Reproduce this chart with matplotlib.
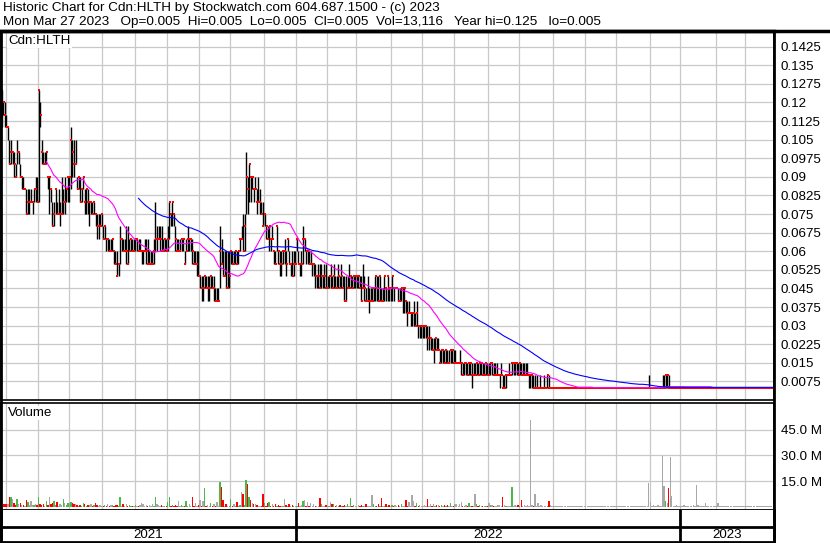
import matplotlib
matplotlib.use("Agg")
import matplotlib.pyplot as plt
from matplotlib.lines import Line2D
import numpy as np
import pandas as pd

plt.rcParams['font.family'] = ['Liberation Sans', 'DejaVu Sans']

# trading days in each month, Mar 2021 .. Mar 2023
month_days = [3, 21, 20, 22, 21, 21, 21, 20, 22, 21,
              20, 19, 23, 20, 21, 22, 20, 22, 21, 20, 22, 20,
              23, 19, 19]
month_year = [2021] * 10 + [2022] * 12 + [2023] * 3
years = [2021, 2022, 2023]

# daily prices in ticks of 0.005
high = [
    25, 24, 24,
    23, 22, 21, 21, 20, 20, 19, 21, 20, 19, 18, 18, 17, 17, 17, 17, 17, 16, 17, 18, 18,
    25, 24, 21, 20, 20, 20, 18, 18, 17, 16, 16, 17, 16, 17, 16, 18, 17, 18, 17, 18,
    18, 22, 21, 21, 21, 18, 18, 18, 17, 18, 17, 17, 17, 16, 16, 16, 16, 15, 15, 15, 15, 15,
    14, 14, 13, 13, 13, 13, 13, 12, 12, 12, 11, 14, 13, 13, 13, 14, 14, 13, 13, 13, 13,
    13, 13, 13, 13, 12, 12, 13, 13, 13, 12, 12, 12, 13, 16, 14, 14, 14, 14, 13, 13, 13,
    14, 16, 15, 16, 15, 14, 13, 13, 13, 13, 13, 12, 13, 14, 13, 13, 13, 12, 12, 12, 12,
    10, 10, 10, 10, 10, 10, 10, 10, 10, 10, 9, 9, 9, 14, 13, 12, 12, 12, 12, 12,
    12, 12, 12, 12, 12, 12, 13, 14, 15, 15, 20, 18, 19, 18, 18, 17, 18, 17, 18, 17, 16, 16,
    15, 14, 14, 14, 13, 14, 12, 12, 14, 12, 12, 12, 12, 13, 12, 13, 12, 11, 12, 12, 12,
    13, 12, 11, 12, 14, 13, 12, 12, 12, 12, 11, 11, 11, 10, 11, 11, 11, 10, 11, 11,
    10, 10, 11, 10, 11, 10, 10, 11, 10, 11, 10, 10, 10, 10, 11, 10, 10, 10, 10,
    10, 10, 10, 10, 11, 10, 9, 10, 9, 9, 9, 9, 10, 10, 10, 10, 9, 9, 10, 9, 10, 9, 9,
    10, 9, 9, 9, 9, 9, 9, 9, 9, 8, 8, 8, 7, 7, 8, 7, 8, 6, 6, 6,
    6, 6, 6, 6, 6, 5, 5, 5, 5, 5, 5, 4, 4, 4, 4, 4, 4, 4, 4, 4, 4,
    4, 3, 3, 4, 3, 3, 3, 3, 3, 3, 3, 3, 3, 3, 3, 3, 3, 3, 3, 3, 3, 3,
    3, 3, 3, 3, 3, 3, 2, 2, 3, 2, 2, 2, 2, 3, 2, 3, 3, 3, 3, 3,
    3, 3, 3, 3, 3, 3, 2, 2, 2, 2, 2, 2, 1, 2, 1, 1, 2, 1, 2, 2, 1, 1,
    1, 1, 1, 1, 1, 1, 1, 1, 1, 1, 1, 1, 1, 1, 1, 1, 1, 1, 1, 1, 1,
    1, 1, 1, 1, 1, 1, 1, 1, 1, 1, 1, 1, 1, 1, 1, 1, 1, 1, 1, 1,
    1, 1, 1, 1, 1, 1, 1, 1, 1, 1, 1, 1, 1, 1, 1, 1, 1, 1, 1, 1, 1, 2,
    1, 1, 1, 1, 1, 1, 1, 1, 2, 2, 2, 2, 2, 1, 1, 1, 1, 1, 1, 1,
    1, 1, 1, 1, 1, 1, 1, 1, 1, 1, 1, 1, 1, 1, 1, 1, 1, 1, 1, 1, 1, 1, 1,
    1, 1, 1, 1, 1, 1, 1, 1, 1, 1, 1, 1, 1, 1, 1, 1, 1, 1, 1,
    1, 1, 1, 1, 1, 1, 1, 1, 1, 1, 1, 1, 1, 1, 1, 1, 1, 1, 1,
]
low = [
    22, 23, 22,
    22, 21, 19, 19, 19, 18, 18, 19, 19, 18, 17, 17, 17, 15, 15, 15, 16, 15, 16, 16, 16,
    16, 22, 19, 19, 19, 19, 17, 15, 16, 14, 14, 15, 15, 15, 14, 15, 15, 15, 16, 16,
    16, 17, 18, 18, 19, 17, 17, 16, 16, 17, 15, 15, 15, 14, 15, 15, 15, 14, 13, 13, 14, 14,
    13, 13, 12, 12, 12, 12, 12, 11, 11, 10, 10, 11, 12, 12, 12, 11, 11, 12, 12, 12, 12,
    12, 12, 12, 12, 11, 11, 12, 11, 11, 11, 11, 11, 11, 12, 12, 13, 12, 12, 12, 12, 12,
    12, 13, 14, 14, 14, 12, 12, 12, 12, 12, 12, 11, 12, 12, 12, 12, 11, 11, 11, 10, 10,
    9, 8, 8, 9, 9, 8, 8, 9, 9, 8, 8, 8, 8, 9, 11, 10, 10, 9, 9, 9,
    11, 11, 11, 11, 11, 11, 12, 13, 12, 12, 15, 15, 16, 16, 17, 16, 17, 15, 16, 15, 15, 14,
    14, 13, 13, 12, 12, 13, 11, 11, 12, 11, 10, 10, 11, 11, 10, 12, 11, 10, 10, 10, 11,
    12, 11, 10, 10, 11, 12, 11, 11, 11, 11, 10, 10, 9, 9, 9, 9, 9, 9, 9, 9,
    9, 9, 9, 9, 9, 9, 9, 9, 9, 9, 9, 8, 8, 9, 9, 9, 9, 9, 9,
    9, 9, 9, 8, 9, 8, 8, 8, 7, 8, 8, 8, 8, 8, 8, 8, 8, 8, 8, 8, 8, 8, 8,
    8, 8, 9, 9, 8, 8, 8, 7, 7, 7, 6, 7, 6, 6, 6, 6, 6, 5, 5, 5,
    5, 5, 5, 4, 4, 4, 4, 3, 4, 4, 4, 3, 3, 3, 3, 3, 3, 3, 3, 3, 3,
    3, 3, 3, 3, 2, 2, 2, 2, 2, 2, 2, 1, 2, 2, 2, 2, 2, 2, 2, 2, 2, 2,
    2, 2, 2, 2, 2, 2, 2, 1, 2, 1, 1, 1, 2, 2, 2, 2, 2, 2, 2, 2,
    2, 2, 2, 2, 2, 2, 1, 1, 1, 1, 1, 1, 1, 1, 1, 1, 1, 1, 1, 1, 1, 1,
    1, 1, 1, 1, 1, 1, 1, 1, 1, 1, 1, 1, 1, 1, 1, 1, 1, 1, 1, 1, 1,
    1, 1, 1, 1, 1, 1, 1, 1, 1, 1, 1, 1, 1, 1, 1, 1, 1, 1, 1, 1,
    1, 1, 1, 1, 1, 1, 1, 1, 1, 1, 1, 1, 1, 1, 1, 1, 1, 1, 1, 1, 1, 1,
    1, 1, 1, 1, 1, 1, 1, 1, 1, 1, 1, 1, 1, 1, 1, 1, 1, 1, 1, 1,
    1, 1, 1, 1, 1, 1, 1, 1, 1, 1, 1, 1, 1, 1, 1, 1, 1, 1, 1, 1, 1, 1, 1,
    1, 1, 1, 1, 1, 1, 1, 1, 1, 1, 1, 1, 1, 1, 1, 1, 1, 1, 1,
    1, 1, 1, 1, 1, 1, 1, 1, 1, 1, 1, 1, 1, 1, 1, 1, 1, 1, 1,
]
close = [
    25, 24, 23,
    22, 22, 19, 20, 20, 19, 18, 20, 20, 18, 18, 17, 17, 15, 16, 16, 16, 16, 17, 17, 16,
    25, 23, 20, 19, 19, 20, 18, 18, 17, 14, 15, 17, 15, 15, 15, 15, 16, 16, 17, 18,
    18, 21, 20, 19, 19, 17, 18, 16, 17, 18, 16, 17, 16, 16, 16, 15, 16, 15, 14, 14, 14, 15,
    13, 14, 13, 13, 12, 12, 13, 12, 11, 10, 11, 13, 13, 12, 12, 12, 11, 12, 13, 12, 12,
    13, 13, 12, 12, 12, 12, 12, 12, 11, 11, 11, 11, 12, 13, 13, 13, 13, 12, 12, 13, 12,
    13, 16, 15, 16, 15, 13, 12, 12, 12, 13, 13, 11, 12, 13, 13, 13, 12, 11, 11, 11, 10,
    10, 9, 9, 10, 9, 9, 9, 10, 9, 9, 8, 8, 8, 12, 11, 10, 10, 9, 9, 10,
    12, 11, 11, 12, 11, 12, 13, 13, 12, 14, 18, 17, 19, 18, 18, 17, 17, 16, 16, 16, 15, 14,
    15, 14, 13, 14, 13, 13, 12, 11, 14, 12, 11, 11, 12, 12, 11, 13, 11, 11, 10, 11, 11,
    13, 11, 11, 11, 13, 13, 12, 12, 11, 11, 11, 11, 10, 10, 10, 9, 10, 10, 10, 9,
    9, 10, 10, 9, 10, 9, 9, 10, 9, 10, 9, 8, 8, 9, 9, 10, 9, 10, 10,
    10, 10, 9, 8, 9, 9, 8, 8, 8, 8, 8, 9, 10, 9, 8, 10, 8, 8, 10, 9, 10, 9, 9,
    10, 9, 9, 9, 8, 8, 9, 9, 9, 8, 7, 7, 7, 7, 7, 6, 7, 6, 6, 6,
    6, 6, 6, 5, 5, 5, 4, 4, 5, 4, 4, 3, 4, 4, 3, 4, 3, 3, 4, 4, 3,
    3, 3, 3, 3, 3, 2, 3, 3, 2, 3, 3, 2, 2, 2, 3, 2, 3, 3, 2, 2, 3, 2,
    2, 3, 3, 2, 2, 2, 2, 2, 2, 1, 1, 2, 2, 2, 2, 3, 3, 3, 3, 2,
    3, 2, 2, 2, 2, 2, 2, 2, 2, 1, 1, 1, 1, 1, 1, 1, 1, 1, 2, 1, 1, 1,
    1, 1, 1, 1, 1, 1, 1, 1, 1, 1, 1, 1, 1, 1, 1, 1, 1, 1, 1, 1, 1,
    1, 1, 1, 1, 1, 1, 1, 1, 1, 1, 1, 1, 1, 1, 1, 1, 1, 1, 1, 1,
    1, 1, 1, 1, 1, 1, 1, 1, 1, 1, 1, 1, 1, 1, 1, 1, 1, 1, 1, 1, 1, 1,
    1, 1, 1, 1, 1, 1, 1, 1, 1, 1, 2, 2, 1, 1, 1, 1, 1, 1, 1, 1,
    1, 1, 1, 1, 1, 1, 1, 1, 1, 1, 1, 1, 1, 1, 1, 1, 1, 1, 1, 1, 1, 1, 1,
    1, 1, 1, 1, 1, 1, 1, 1, 1, 1, 1, 1, 1, 1, 1, 1, 1, 1, 1,
    1, 1, 1, 1, 1, 1, 1, 1, 1, 1, 1, 1, 1, 1, 1, 1, 1, 1, 1,
]
# daily volume, millions of shares
volume = [
    5.9, 1.8, 1.8,
    1.8, 1.5, 5.9, 5.9, 4.9, 2.4, 1.2, 4.7, 1.8, 2.4, 1.0, 1.4, 0.8, 4.3, 2.9, 1.0, 3.3, 1.2, 0.9, 1.5, 1.0,
    5.5, 1.8, 1.4, 1.8, 0.8, 3.3, 1.0, 5.9, 1.8, 2.4, 3.3, 1.0, 2.9, 0.7, 1.8, 1.0, 4.7, 2.4, 1.2, 2.4,
    2.4, 2.9, 2.4, 1.8, 1.8, 1.0, 0.6, 1.4, 0.8, 2.4, 1.8, 0.6, 1.4, 1.4, 1.8, 0.7, 0.9, 2.4, 1.0, 0.6, 1.2, 0.8,
    0.6, 1.4, 0.5, 1.8, 0.8, 1.4, 1.4, 0.5, 1.4, 1.0, 0.6, 5.9, 0.8, 1.8, 0.5, 1.8, 0.7, 1.4, 0.5, 0.6, 0.8,
    1.0, 0.5, 0.6, 1.0, 2.4, 1.8, 0.5, 1.4, 0.6, 1.0, 0.5, 1.8, 0.6, 5.9, 1.8, 1.4, 0.5, 1.0, 0.6, 0.8, 0.5,
    2.9, 5.9, 0.8, 1.4, 0.6, 1.0, 0.5, 3.3, 0.6, 1.0, 0.5, 0.8, 3.3, 0.6, 1.8, 0.5, 5.7, 0.6, 2.4, 0.8, 1.0,
    4.3, 0.8, 3.3, 11.2, 0.6, 1.4, 0.5, 2.4, 0.6, 1.8, 0.5, 2.9, 0.6, 14.7, 11.6, 4.3, 0.6, 1.8, 0.5, 0.8,
    4.7, 0.6, 1.8, 0.5, 2.9, 0.6, 1.0, 8.6, 7.3, 1.4, 15.5, 13.5, 5.9, 4.3, 2.4, 1.8, 1.8, 1.4, 0.6, 0.8, 0.5, 7.6,
    2.4, 0.6, 2.4, 2.9, 0.5, 1.8, 0.6, 1.8, 0.5, 1.0, 0.6, 0.8, 0.5, 4.7, 1.0, 0.6, 1.8, 0.5, 1.4, 0.6, 0.5,
    0.6, 2.4, 0.5, 1.4, 3.3, 4.3, 0.6, 2.9, 0.5, 2.4, 0.6, 1.8, 0.5, 0.8, 0.6, 5.3, 1.8, 0.5, 0.6, 1.0,
    0.5, 0.6, 2.9, 1.8, 1.8, 0.5, 1.4, 0.6, 1.0, 0.5, 0.6, 1.0, 0.5, 1.8, 0.6, 5.3, 0.5, 1.0, 0.6,
    0.5, 1.0, 0.6, 1.0, 0.5, 0.6, 1.8, 0.5, 0.6, 0.5, 6.9, 1.8, 0.6, 0.5, 1.8, 0.6, 5.3, 0.5, 0.6, 1.8, 0.5, 1.4, 0.6,
    1.0, 0.5, 1.0, 0.6, 1.0, 0.5, 1.8, 0.6, 0.5, 4.3, 0.6, 2.9, 0.5, 6.9, 3.3, 0.6, 2.4, 0.5, 1.0, 0.6,
    0.6, 1.0, 0.5, 4.7, 0.6, 1.8, 0.5, 1.8, 0.6, 1.0, 1.0, 0.5, 1.0, 0.6, 1.0, 0.5, 1.0, 0.6, 2.4, 0.5, 0.6,
    1.8, 1.8, 0.6, 1.8, 2.9, 0.5, 0.6, 1.0, 0.5, 2.4, 0.6, 0.5, 0.6, 7.6, 1.8, 0.5, 1.0, 0.6, 0.5, 0.6, 0.5, 0.6,
    2.4, 1.0, 1.0, 0.5, 0.6, 0.5, 1.0, 1.4, 0.5, 5.7, 1.0, 0.6, 0.5, 0.6, 0.5, 11.8, 0.6, 1.0, 0.5, 1.0,
    0.6, 4.3, 0.5, 1.4, 0.6, 1.4, 0.6, 50.8, 1.4, 0.6, 7.6, 0.5, 2.4, 0.6, 1.4, 0.5, 0.6, 0.5, 0.6, 3.7, 1.0, 0.6,
    0.6, 0.8, 0.5, 0.6, 0.7, 0.5, 0.6, 0.8, 0.6, 0.5, 0.6, 0.7, 0.5, 0.6, 0.8, 0.6, 0.5, 0.6, 0.7, 0.5, 0.6,
    0.6, 0.5, 0.7, 0.6, 0.5, 0.8, 0.6, 0.5, 0.6, 0.7, 0.5, 0.6, 0.6, 0.5, 0.7, 0.6, 0.5, 0.6, 0.8, 0.5,
    0.6, 0.5, 0.6, 0.7, 0.5, 0.6, 0.6, 0.5, 0.7, 0.6, 0.5, 0.6, 0.6, 0.5, 0.7, 0.6, 0.5, 0.6, 0.5, 0.6, 0.5, 14.1,
    2.9, 0.5, 1.4, 0.6, 0.5, 1.4, 0.6, 0.5, 29.8, 12.2, 3.3, 2.0, 11.2, 28.8, 6.3, 0.6, 0.5, 1.4, 0.5, 0.6,
    0.5, 0.6, 1.0, 0.5, 0.6, 0.5, 0.6, 0.5, 1.4, 0.6, 12.7, 1.0, 0.6, 0.5, 0.6, 0.5, 2.4, 0.6, 0.5, 0.6, 0.5, 0.6, 0.5,
    0.6, 2.4, 0.5, 0.6, 0.5, 0.6, 0.5, 0.6, 0.5, 0.6, 0.5, 0.6, 0.5, 0.6, 0.5, 0.6, 0.5, 0.6, 0.5,
    0.5, 0.6, 0.5, 0.6, 0.5, 0.6, 0.5, 0.6, 0.5, 0.6, 0.5, 0.6, 0.5, 0.6, 0.5, 0.6, 0.5, 0.6, 0.013,
]

header1 = "Historic Chart for Cdn:HLTH by Stockwatch.com 604.687.1500 - (c) 2023"
header2 = ("Mon Mar 27 2023   Op=0.005  Hi=0.005  Lo=0.005  Cl=0.005  "
           "Vol=13,116   Year hi=0.125   lo=0.005")

TICK = 0.005
n_days = sum(month_days)
assert len(high) == len(low) == len(close) == len(volume) == n_days, \
    (len(high), len(low), len(close), len(volume), n_days)

hi = np.array(high) * TICK
lo = np.array(low) * TICK
cl = np.array(close) * TICK
vol = np.array(volume)
x = np.arange(n_days)

ma_fast = pd.Series(cl).rolling(30).mean()
ma_slow = pd.Series(cl).rolling(90).mean()

chg = np.diff(cl, prepend=cl[0])
vcolors = np.where(chg > 0, '#4cb84c', np.where(chg < 0, '#ff0000', '#a8a8a8'))

starts = np.cumsum([0] + month_days[:-1])
grid_x = starts[1:] - 0.5
my = np.array(month_year)
year_edges = [starts[my == yr][0] - 0.5 for yr in years] + [n_days - 0.5]

W, H = 830, 543
FS = 9.6
fig = plt.figure(figsize=(W / 100, H / 100), dpi=100)


def px_box(left, top, right, bottom):
    return [left / W, 1 - bottom / H, (right - left) / W, (bottom - top) / H]


ax_p = fig.add_axes(px_box(1, 31, 774, 400))
ax_v = fig.add_axes(px_box(1, 403, 774, 509.5))
ax_d = fig.add_axes(px_box(1, 510, 774, 542))

grid_col = '#c8c8c8'
for ax in (ax_p, ax_v):
    ax.set_xlim(-0.5, n_days - 0.5)
    ax.set_xticks(grid_x)
    ax.tick_params(axis='x', length=0, labelbottom=False)
    ax.yaxis.tick_right()
    ax.tick_params(axis='y', length=0, pad=5, labelsize=FS)
    ax.grid(True, color=grid_col, lw=0.9)
    ax.set_axisbelow(True)
    for s in ax.spines.values():
        s.set_color('black')
        s.set_linewidth(1.2)

# price panel
ax_p.vlines(x, lo, hi, color='black', lw=1.0, zorder=2)
ax_p.scatter(x + 0.3, cl, marker='s', s=3, color='red', lw=0, zorder=3)
ax_p.plot(x, ma_fast, color='#ff00ff', lw=0.8, zorder=4)
ax_p.plot(x, ma_slow, color='#0000ff', lw=0.8, zorder=4)
ax_p.set_ylim(0, 0.1488)
pticks = np.arange(1, 20) * 0.0075
ax_p.set_yticks(pticks)
ax_p.set_yticklabels([f"{round(v, 4):g}" for v in pticks])
ax_p.spines['top'].set_linewidth(2.5)
ax_p.text(0.009, 0.973, "Cdn:HLTH", transform=ax_p.transAxes, fontsize=FS,
          va='center', ha='left',
          bbox=dict(facecolor='white', edgecolor='none', pad=1))

# volume panel
ax_v.bar(x, vol, width=0.9, color=vcolors, lw=0, zorder=2)
ax_v.set_ylim(-1.5, 60.5)
ax_v.set_yticks([15, 30, 45])
ax_v.set_yticklabels(["15.0 M", "30.0 M", "45.0 M"])
ax_v.spines['bottom'].set_linewidth(2)
ax_v.text(0.009, 0.905, "Volume", transform=ax_v.transAxes, fontsize=FS,
          va='center', ha='left',
          bbox=dict(facecolor='white', edgecolor='none', pad=1))

# date band
ax_d.set_xlim(-0.5, n_days - 0.5)
ax_d.set_ylim(0, 1)
ax_d.set_xticks([])
ax_d.set_yticks([])
for s in ax_d.spines.values():
    s.set_linewidth(2)
ax_d.spines['top'].set_visible(False)
ax_d.axhline(0.47, color='black', lw=2)
for e in year_edges[1:-1]:
    ax_d.axvline(e, color='black', lw=2)
for yr, a, b in zip(years, year_edges[:-1], year_edges[1:]):
    ax_d.text((a + b) / 2, 0.22, str(yr), ha='center', va='center', fontsize=FS)

# header and outer frame
fig.text(3 / W, 1 - 8.5 / H, header1, fontsize=9.7, va='center', ha='left')
fig.text(3 / W, 1 - 22 / H, header2, fontsize=9.7, va='center', ha='left')
for xp in (1, 774):
    fig.add_artist(Line2D([xp / W, xp / W], [0, 1 - 31 / H],
                          transform=fig.transFigure, color='black', lw=2))
fig.add_artist(Line2D([0, 1], [1 - 30.5 / H, 1 - 30.5 / H],
                      transform=fig.transFigure, color='black', lw=2.5))

fig.savefig("out.png", dpi=100)
